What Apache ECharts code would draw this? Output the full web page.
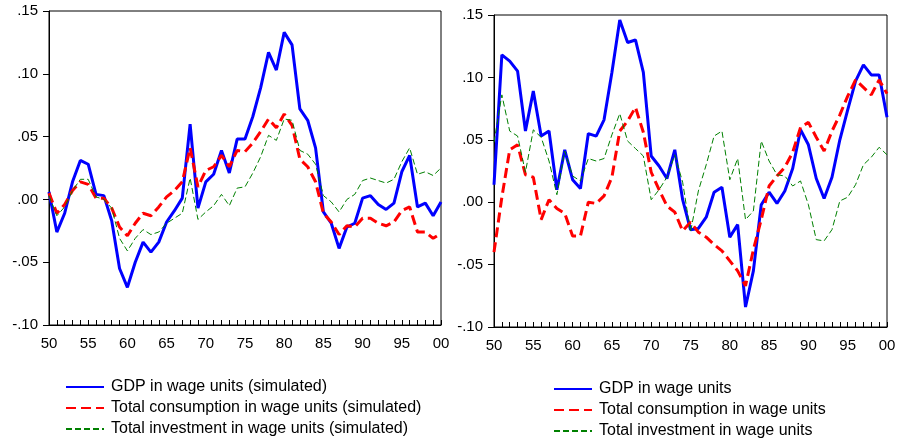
<!DOCTYPE html>
<html>
<head>
<meta charset="utf-8">
<script src="https://cdn.jsdelivr.net/npm/echarts@6/dist/echarts.min.js"></script>
<style>
  html, body { margin: 0; padding: 0; background: #fff; }
  #chart { width: 899px; height: 440px; }
</style>
</head>
<body>
<div id="chart"></div>
<script>
// years 1950 .. 2000
var years = [];
for (var y = 1950; y <= 2000; y++) years.push(y);

// left panel: simulated
var simGdp = [0.006, -0.026, -0.011, 0.014, 0.031, 0.028, 0.004, 0.003, -0.017, -0.055,
  -0.070, -0.050, -0.034, -0.042, -0.034, -0.018, -0.009, 0.001, 0.060, -0.007,
  0.014, 0.020, 0.039, 0.021, 0.048, 0.048, 0.066, 0.089, 0.117, 0.103,
  0.133, 0.123, 0.072, 0.063, 0.041, -0.010, -0.019, -0.039, -0.022, -0.019,
  0.001, 0.003, -0.004, -0.008, -0.003, 0.022, 0.035, -0.006, -0.003, -0.013, -0.002];
var simCons = [0.005, -0.011, -0.004, 0.007, 0.014, 0.012, 0.001, 0.001, -0.007, -0.022,
  -0.029, -0.019, -0.011, -0.013, -0.006, 0.002, 0.007, 0.014, 0.041, 0.010,
  0.023, 0.026, 0.035, 0.026, 0.039, 0.038, 0.045, 0.054, 0.064, 0.057,
  0.068, 0.059, 0.032, 0.026, 0.014, -0.011, -0.018, -0.028, -0.021, -0.022,
  -0.015, -0.015, -0.019, -0.021, -0.018, -0.009, -0.006, -0.026, -0.026, -0.031, -0.027];
var simInv = [0.003, -0.013, -0.006, 0.007, 0.016, 0.016, 0.002, 0.000, -0.007, -0.031,
  -0.041, -0.031, -0.024, -0.028, -0.026, -0.019, -0.015, -0.011, 0.017, -0.016,
  -0.010, -0.005, 0.004, -0.005, 0.009, 0.010, 0.021, 0.034, 0.051, 0.047,
  0.064, 0.063, 0.039, 0.036, 0.028, 0.003, -0.002, -0.010, 0.000, 0.004,
  0.015, 0.017, 0.015, 0.013, 0.016, 0.030, 0.041, 0.020, 0.022, 0.019, 0.025];

// right panel: actual
var actGdp = [0.014, 0.118, 0.113, 0.105, 0.057, 0.089, 0.053, 0.057, 0.010, 0.042,
  0.018, 0.011, 0.055, 0.053, 0.066, 0.104, 0.146, 0.128, 0.130, 0.104,
  0.037, 0.029, 0.019, 0.042, 0.002, -0.022, -0.021, -0.012, 0.008, 0.012,
  -0.028, -0.018, -0.084, -0.055, -0.002, 0.008, -0.001, 0.009, 0.027, 0.058,
  0.046, 0.019, 0.003, 0.020, 0.050, 0.074, 0.097, 0.110, 0.102, 0.102, 0.068];
var actCons = [-0.040, 0.004, 0.042, 0.046, 0.022, 0.020, -0.014, 0.002, -0.005, -0.009,
  -0.027, -0.027, 0.000, -0.001, 0.005, 0.020, 0.057, 0.065, 0.076, 0.056,
  0.024, 0.010, -0.003, -0.008, -0.023, -0.016, -0.024, -0.028, -0.034, -0.039,
  -0.047, -0.055, -0.067, -0.038, -0.014, 0.013, 0.021, 0.028, 0.040, 0.060,
  0.064, 0.052, 0.041, 0.057, 0.070, 0.085, 0.098, 0.092, 0.086, 0.098, 0.087];
var actInv = [0.048, 0.086, 0.057, 0.053, 0.024, 0.058, 0.052, 0.033, 0.006, 0.041,
  0.021, 0.017, 0.035, 0.033, 0.035, 0.054, 0.071, 0.049, 0.043, 0.037,
  0.002, 0.010, 0.020, 0.038, 0.016, -0.024, 0.009, 0.030, 0.053, 0.057,
  0.018, 0.035, -0.014, -0.007, 0.049, 0.033, 0.022, 0.021, 0.013, 0.017,
  -0.002, -0.030, -0.031, -0.022, 0.001, 0.004, 0.014, 0.030, 0.036, 0.044, 0.038];

var leftNames = ['GDP in wage units (simulated)', 'Total consumption in wage units (simulated)', 'Total investment in wage units (simulated)'];
var rightNames = ['GDP in wage units', 'Total consumption in wage units', 'Total investment in wage units'];

var FONT = 'Liberation Sans';

function yFmt(v) {
  var s = Math.round(Math.abs(v) * 100);
  return (v < -1e-9 ? '-' : '') + '.' + (s < 10 ? '0' + s : s);
}

function xAxisFor(gi) {
  return {
    type: 'category', gridIndex: gi, data: years, boundaryGap: false,
    axisLine: { onZero: false, lineStyle: { color: '#000', width: 1 } },
    axisTick: { inside: true, length: 5, interval: 0, lineStyle: { color: '#000' } },
    axisLabel: {
      interval: 4, margin: 11, color: '#000', fontFamily: FONT, fontSize: 15,
      formatter: function (v) { return String(v % 100).padStart(2, '0'); }
    },
    splitLine: { show: false }
  };
}

function yAxisFor(gi) {
  return {
    type: 'value', gridIndex: gi, min: -0.1, max: 0.15, interval: 0.05,
    axisLine: { show: true, lineStyle: { color: '#000', width: 1 } },
    axisTick: { show: true, length: 6, lineStyle: { color: '#000' } },
    axisLabel: { margin: 11, color: '#000', fontFamily: FONT, fontSize: 15, formatter: yFmt },
    splitLine: { show: false }
  };
}

function lines(names, gdp, cons, inv, gi) {
  var base = { type: 'line', xAxisIndex: gi, yAxisIndex: gi, symbol: 'none', animation: false };
  return [
    Object.assign({}, base, { name: names[0], data: gdp, color: '#0000ff', lineStyle: { color: '#0000ff', width: 3 } }),
    Object.assign({}, base, { name: names[1], data: cons, color: '#ff0000', lineStyle: { color: '#ff0000', width: 3, type: [10, 5] } }),
    Object.assign({}, base, { name: names[2], data: inv, color: '#008000', lineStyle: { color: '#008000', width: 1, type: [6, 3] } })
  ];
}

function legendFor(names, left, top) {
  return {
    data: names, orient: 'vertical', left: left, top: top, height: 70, padding: 0,
    itemWidth: 38, itemHeight: 14, itemGap: 5,
    itemStyle: { opacity: 0 },
    textStyle: { color: '#000', fontFamily: FONT, fontSize: 16, padding: [0, 0, 0, 2] }
  };
}

var chart = echarts.init(document.getElementById('chart'));

var option = {
  backgroundColor: '#fff',
  animation: false,
  grid: [
    { left: 49, top: 11, width: 392, height: 314, show: true, borderColor: '#000', borderWidth: 1 },
    { left: 494, top: 15, width: 393, height: 312, show: true, borderColor: '#000', borderWidth: 1 }
  ],
  xAxis: [xAxisFor(0), xAxisFor(1)],
  yAxis: [yAxisFor(0), yAxisFor(1)],
  legend: [legendFor(leftNames, 65, 379), legendFor(rightNames, 553, 381)],
  series: [].concat(
    lines(leftNames, simGdp, simCons, simInv, 0),
    lines(rightNames, actGdp, actCons, actInv, 1)
  )
};

chart.setOption(option);
window.addEventListener('resize', chart.resize);
</script>
</body>
</html>
